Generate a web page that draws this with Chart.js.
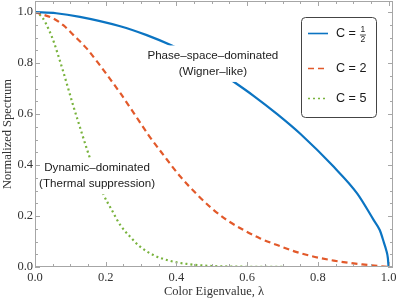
<!DOCTYPE html>
<html>
<head>
<meta charset="utf-8">
<script src="https://cdn.jsdelivr.net/npm/chart.js@4.4.1/dist/chart.umd.min.js"></script>
<style>
  html, body { margin: 0; padding: 0; background: #fff; }
</style>
</head>
<body>
<canvas id="spectrum" width="397" height="301"></canvas>
<script>
// Data
const lambdaHalf = [0, 0.06, 0.127, 0.241, 0.316, 0.387, 0.45, 0.5, 0.562, 0.62, 0.685, 0.751, 0.845, 0.911, 0.958, 0.975, 0.987, 0.993, 0.998, 1.0];
const specHalf   = [1.0, 0.996, 0.982, 0.945, 0.910, 0.869, 0.824, 0.785, 0.727, 0.670, 0.600, 0.522, 0.393, 0.289, 0.184, 0.145, 0.095, 0.068, 0.035, 0];

const lambdaTwo = [0, 0.052, 0.080, 0.109, 0.146, 0.179, 0.208, 0.241, 0.279, 0.321, 0.363, 0.411, 0.458, 0.50, 0.543, 0.59, 0.637, 0.685, 0.751, 0.845, 0.94, 1.0];
const specTwo   = [1.0, 0.975, 0.949, 0.91, 0.858, 0.80, 0.746, 0.683, 0.605, 0.518, 0.44, 0.355, 0.285, 0.23, 0.184, 0.145, 0.112, 0.086, 0.054, 0.025, 0.008, 0];

const lambdaFive = [0, 0.02, 0.040, 0.054, 0.066, 0.080, 0.094, 0.109, 0.123, 0.134, 0.151, 0.17, 0.192, 0.217, 0.241, 0.269, 0.297, 0.335, 0.382, 0.43, 0.5, 0.6, 0.8, 1.0];
const specFive   = [1.0, 0.981, 0.929, 0.88, 0.829, 0.766, 0.70, 0.629, 0.567, 0.518, 0.445, 0.369, 0.289, 0.224, 0.165, 0.119, 0.08, 0.047, 0.024, 0.012, 0.004, 0.001, 0, 0];

const seriesNames = ['C = 1/2', 'C = 2', 'C = 5'];
const xTicks = [0, 0.2, 0.4, 0.6, 0.8, 1.0];
const yTicks = [0, 0.2, 0.4, 0.6, 0.8, 1.0];
const minorTicks = [0, 0.05, 0.1, 0.15, 0.2, 0.25, 0.3, 0.35, 0.4, 0.45, 0.5, 0.55, 0.6, 0.65, 0.7, 0.75, 0.8, 0.85, 0.9, 0.95, 1.0];

const annotations = [
    { lines: ['Phase\u2013space\u2013dominated', '(Wigner\u2013like)'], x: 0.503, y: 0.798 },
    { lines: ['Dynamic\u2013dominated', '(Thermal suppression)'], x: 0.1755, y: 0.357 }
];

const toPoints = (xs, ys) => xs.map((x, i) => ({ x: x, y: ys[i] }));

const frameColor = '#a6a6a6';
const serif = "'Liberation Serif', 'Times New Roman', serif";
const sans = "'Liberation Sans', Arial, sans-serif";

// Inward ticks on all four sides plus the frame
const framePlugin = {
    id: 'frame',
    afterDraw(chart) {
        const { ctx, chartArea: a, scales: { x, y } } = chart;
        ctx.save();
        ctx.strokeStyle = frameColor;
        ctx.lineWidth = 1;
        ctx.beginPath();
        minorTicks.forEach(v => {
            const major = xTicks.some(t => Math.abs(t - v) < 1e-9);
            const len = major ? 5 : 3;
            const px = Math.round(x.getPixelForValue(v)) + 0.5;
            ctx.moveTo(px, a.bottom); ctx.lineTo(px, a.bottom - len);
            ctx.moveTo(px, a.top); ctx.lineTo(px, a.top + len);
            const py = Math.round(y.getPixelForValue(v)) + 0.5;
            ctx.moveTo(a.left, py); ctx.lineTo(a.left + len, py);
            ctx.moveTo(a.right, py); ctx.lineTo(a.right - len, py);
        });
        ctx.stroke();
        ctx.strokeRect(Math.round(a.left) + 0.5, Math.round(a.top) + 0.5,
            Math.round(a.right - a.left) - 1, Math.round(a.bottom - a.top) - 1);
        ctx.restore();
    }
};

// Text labels with white backing, and the boxed legend
const labelPlugin = {
    id: 'labels',
    afterDatasetsDraw(chart) {
        const { ctx, scales: { x, y } } = chart;
        ctx.save();
        ctx.font = '11.6px ' + sans;
        ctx.textAlign = 'center';
        ctx.textBaseline = 'middle';
        annotations.forEach(ann => {
            const cx = x.getPixelForValue(ann.x);
            const cy = y.getPixelForValue(ann.y);
            const gap = 16.5;
            const w = Math.max(...ann.lines.map(t => ctx.measureText(t).width));
            const top = cy - gap / 2 - 10;
            const h = gap + 20;
            ctx.fillStyle = '#fff';
            ctx.fillRect(cx - w / 2 - 3, top, w + 6, h);
            ctx.fillStyle = '#1a1a1a';
            ann.lines.forEach((t, i) => ctx.fillText(t, cx, cy + (i - 0.5) * gap));
        });

        // legend box
        const bx = 301.5, by = 17.5, bw = 75, bh = 100;
        ctx.beginPath();
        ctx.roundRect(bx, by, bw, bh, 4);
        ctx.fillStyle = '#fff';
        ctx.fill();
        ctx.strokeStyle = '#444';
        ctx.lineWidth = 1;
        ctx.stroke();

        const rows = [33.5, 68.5, 98.5];
        chart.data.datasets.forEach((ds, i) => {
            const ry = rows[i];
            ctx.save();
            ctx.strokeStyle = ds.borderColor;
            ctx.lineWidth = 1.6;
            ctx.setLineDash(ds.borderDash || []);
            ctx.beginPath();
            ctx.moveTo(308, ry);
            ctx.lineTo(328, ry);
            ctx.stroke();
            ctx.restore();
        });
        ctx.fillStyle = '#1a1a1a';
        ctx.textAlign = 'left';
        ctx.font = '12.6px ' + sans;
        ctx.fillText('C = ', 336, rows[0] + 0.5);
        ctx.fillText('C = 2', 336, rows[1] + 0.5);
        ctx.fillText('C = 5', 336, rows[2] + 0.5);
        // stacked 1/2
        const fx = 336 + ctx.measureText('C = ').width + 3.5;
        ctx.font = '8.5px ' + sans;
        ctx.textAlign = 'center';
        ctx.fillText('1', fx, rows[0] - 3.5);
        ctx.fillText('2', fx, rows[0] + 6.5);
        ctx.beginPath();
        ctx.strokeStyle = '#1a1a1a';
        ctx.lineWidth = 0.8;
        ctx.moveTo(fx - 3, rows[0] + 1.5);
        ctx.lineTo(fx + 3, rows[0] + 1.5);
        ctx.stroke();
        ctx.restore();
    }
};

const canvas = document.getElementById('spectrum');
const ctx = canvas.getContext('2d');

const chart = new Chart(ctx, {
    type: 'line',
    data: {
        datasets: [
            {
                label: seriesNames[0],
                data: toPoints(lambdaHalf, specHalf),
                borderColor: '#0b74c2',
                borderWidth: 2.2,
                pointRadius: 0,
                cubicInterpolationMode: 'monotone',
                fill: false
            },
            {
                label: seriesNames[1],
                data: toPoints(lambdaTwo, specTwo),
                borderColor: '#e2592a',
                borderWidth: 2.2,
                borderDash: [6, 4],
                pointRadius: 0,
                cubicInterpolationMode: 'monotone',
                fill: false
            },
            {
                label: seriesNames[2],
                data: toPoints(lambdaFive, specFive),
                borderColor: '#79b33d',
                borderWidth: 2.2,
                borderDash: [2, 3],
                pointRadius: 0,
                cubicInterpolationMode: 'monotone',
                fill: false
            }
        ]
    },
    options: {
        responsive: false,
        animation: false,
        layout: { padding: { top: 1, right: 4, left: 0, bottom: 0 } },
        plugins: {
            legend: { display: false },
            tooltip: { enabled: false }
        },
        scales: {
            x: {
                type: 'linear',
                min: 0,
                max: 1.0125,
                afterBuildTicks: s => { s.ticks = xTicks.map(v => ({ value: v })); },
                afterFit: s => { s.height = 34; s.paddingLeft = 0; s.paddingRight = 0; },
                grid: { display: false, drawTicks: false },
                border: { display: false },
                ticks: {
                    padding: 3,
                    color: '#333',
                    maxRotation: 0,
                    autoSkip: false,
                    font: { family: serif, size: 12.5 },
                    callback: v => v.toFixed(1)
                },
                title: {
                    display: true,
                    text: 'Color Eigenvalue, \u03bb',
                    color: '#333',
                    font: { family: serif, size: 12.5 },
                    padding: { top: 0, bottom: 2 }
                }
            },
            y: {
                type: 'linear',
                min: 0,
                max: 1.044,
                afterBuildTicks: s => { s.ticks = yTicks.map(v => ({ value: v })); },
                afterFit: s => { s.width = 35; s.paddingTop = 0; s.paddingBottom = 0; },
                grid: { display: false, drawTicks: false },
                border: { display: false },
                ticks: {
                    padding: 2,
                    color: '#333',
                    autoSkip: false,
                    font: { family: serif, size: 12.5 },
                    callback: v => v.toFixed(1)
                },
                title: {
                    display: true,
                    text: 'Normalized Spectrum',
                    color: '#333',
                    font: { family: serif, size: 12.5 },
                    padding: { top: 0, bottom: 0 }
                }
            }
        }
    },
    plugins: [framePlugin, labelPlugin]
});
</script>
</body>
</html>
